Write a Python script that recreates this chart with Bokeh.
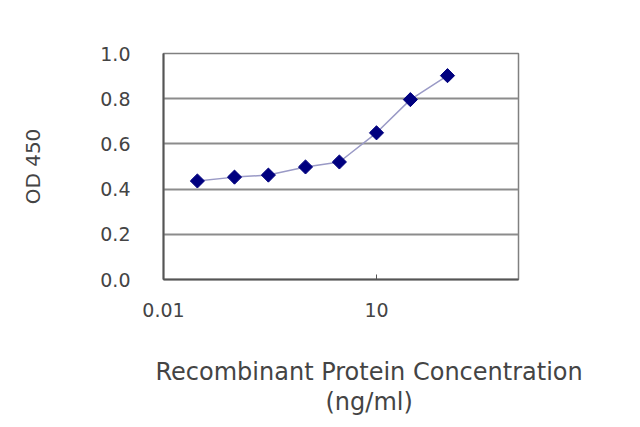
import math
from bokeh.plotting import figure
from bokeh.models import Range1d, FixedTicker, NumeralTickFormatter, Title
from bokeh.embed import file_html
from bokeh.resources import INLINE

# Data
conc = [0.03, 0.1, 0.3, 1, 3, 10, 30, 100]
od450 = [0.436, 0.453, 0.462, 0.498, 0.52, 0.649, 0.796, 0.902]
y_ticks = [0.0, 0.2, 0.4, 0.6, 0.8, 1.0]
x_ticks = [0.01, 10]
x_tick_labels = ["0.01", "10"]
x_title_lines = ["Recombinant Protein Concentration", "(ng/ml)"]
y_title = "OD 450"

FONT = "DejaVu Sans"
TXT = "#444444"

p = figure(width=624, height=415, x_axis_type="log",
           x_range=Range1d(0.01, 1000), y_range=Range1d(0, 1),
           output_backend="svg", toolbar_location=None,
           min_border_left=163, min_border_right=106,
           min_border_top=53, min_border_bottom=10)
p.background_fill_color = "white"
p.border_fill_color = "white"
p.outline_line_color = "#808080"
p.outline_line_width = 1.5

p.xgrid.grid_line_color = None
p.ygrid.grid_line_color = "#8c8c8c"
p.ygrid.grid_line_width = 2
p.ygrid.ticker = FixedTicker(ticks=y_ticks)

# axes
p.yaxis.ticker = FixedTicker(ticks=y_ticks)
p.yaxis.formatter = NumeralTickFormatter(format="0.0")
p.yaxis.major_tick_out = 0
p.yaxis.major_tick_in = 0
p.yaxis.minor_tick_out = 0
p.yaxis.minor_tick_in = 0
p.yaxis.major_label_standoff = 33
p.yaxis.axis_line_color = "#555555"
p.yaxis.axis_line_width = 2
p.yaxis.axis_label = y_title
p.yaxis.axis_label_standoff = 52
p.yaxis.axis_label_text_font = FONT
p.yaxis.axis_label_text_font_size = "20px"
p.yaxis.axis_label_text_font_style = "normal"
p.yaxis.axis_label_text_color = TXT

p.xaxis.ticker = FixedTicker(ticks=x_ticks, minor_ticks=[])
p.xaxis.major_label_overrides = {t: l for t, l in zip(x_ticks, x_tick_labels)}
p.xaxis.major_tick_out = 0
p.xaxis.major_tick_in = 5
p.xaxis.major_tick_line_color = "#555555"
p.xaxis.minor_tick_out = 0
p.xaxis.minor_tick_in = 0
p.xaxis.major_label_standoff = 23
p.xaxis.axis_line_color = "#555555"
p.xaxis.axis_line_width = 2

for ax in (p.xaxis, p.yaxis):
    ax.major_label_text_font = FONT
    ax.major_label_text_font_size = "19px"
    ax.major_label_text_color = TXT

# data
p.line(conc, od450, line_color="#9a9ac6", line_width=1.5)
p.scatter(conc, od450, marker="square", size=10, angle=math.pi / 4,
          fill_color="#00007f", line_color="#00007f")

# spacer between tick labels and the x title
p.add_layout(Title(text=" ", standoff=33, text_font_size="1px"), "below")
# x axis title (two lines) as titles below the axis
offsets = [-8, 162]
for line, off in zip(x_title_lines, offsets):
    p.add_layout(Title(text=line, align="left", offset=off, standoff=0,
                       vertical_align="bottom",
                       text_font=FONT, text_font_size="24px",
                       text_font_style="normal", text_color=TXT), "below")

open("out.html", "w").write(file_html(p, INLINE))
